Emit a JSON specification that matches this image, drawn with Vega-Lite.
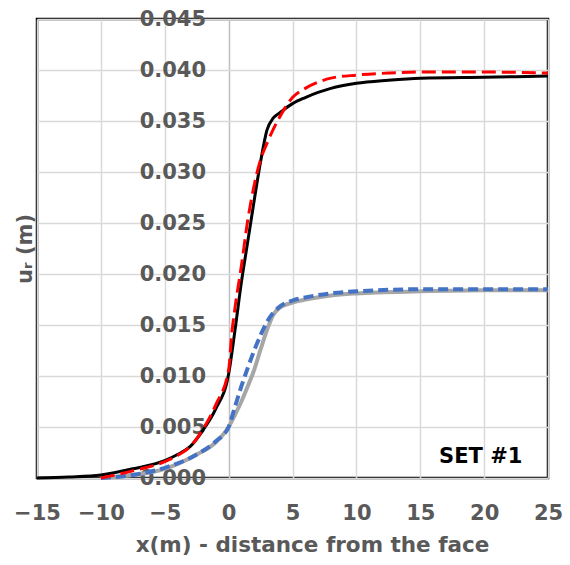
{
  "$schema": "https://vega.github.io/schema/vega-lite/v6.json",
  "width": 511,
  "height": 459,
  "autosize": {"type": "none"},
  "padding": {"left": 37, "top": 19, "right": 22, "bottom": 87},
  "background": "white",
  "config": {
    "view": {"stroke": "black", "strokeWidth": 2.5, "fill": "white"},
    "font": "DejaVu Sans"
  },
  "datasets": {
    "curves": [
      {"s": "black", "x": -15, "y": 0.0},
      {"s": "black", "x": -12.5, "y": 0.0001},
      {"s": "black", "x": -10, "y": 0.0003},
      {"s": "black", "x": -7.5, "y": 0.0009},
      {"s": "black", "x": -5, "y": 0.0017},
      {"s": "black", "x": -4, "y": 0.0023},
      {"s": "black", "x": -3, "y": 0.0031},
      {"s": "black", "x": -2, "y": 0.0047},
      {"s": "black", "x": -1, "y": 0.0068},
      {"s": "black", "x": 0, "y": 0.0102},
      {"s": "black", "x": 0.5, "y": 0.0145},
      {"s": "black", "x": 1, "y": 0.0192},
      {"s": "black", "x": 1.5, "y": 0.0232},
      {"s": "black", "x": 2, "y": 0.0272},
      {"s": "black", "x": 2.5, "y": 0.031},
      {"s": "black", "x": 3, "y": 0.0341},
      {"s": "black", "x": 3.5, "y": 0.0353},
      {"s": "black", "x": 4, "y": 0.0358},
      {"s": "black", "x": 5, "y": 0.0367},
      {"s": "black", "x": 6, "y": 0.0373},
      {"s": "black", "x": 7, "y": 0.0378},
      {"s": "black", "x": 8, "y": 0.0382},
      {"s": "black", "x": 10, "y": 0.0387},
      {"s": "black", "x": 12.5, "y": 0.039},
      {"s": "black", "x": 15, "y": 0.0392},
      {"s": "black", "x": 20, "y": 0.0393},
      {"s": "black", "x": 25, "y": 0.0394},
      {"s": "red", "x": -10, "y": 0.0},
      {"s": "red", "x": -7.5, "y": 0.0007},
      {"s": "red", "x": -5, "y": 0.0016},
      {"s": "red", "x": -4, "y": 0.0022},
      {"s": "red", "x": -3, "y": 0.0031},
      {"s": "red", "x": -2, "y": 0.0048},
      {"s": "red", "x": -1, "y": 0.0072},
      {"s": "red", "x": 0, "y": 0.0106},
      {"s": "red", "x": 0.25, "y": 0.0142},
      {"s": "red", "x": 0.5, "y": 0.0167},
      {"s": "red", "x": 1, "y": 0.0208},
      {"s": "red", "x": 1.5, "y": 0.0253},
      {"s": "red", "x": 2, "y": 0.0287},
      {"s": "red", "x": 2.5, "y": 0.0312},
      {"s": "red", "x": 3, "y": 0.0328},
      {"s": "red", "x": 3.5, "y": 0.0342},
      {"s": "red", "x": 4, "y": 0.0354},
      {"s": "red", "x": 5, "y": 0.0373},
      {"s": "red", "x": 6, "y": 0.0382},
      {"s": "red", "x": 7, "y": 0.0388},
      {"s": "red", "x": 8, "y": 0.0392},
      {"s": "red", "x": 10, "y": 0.0395},
      {"s": "red", "x": 12.5, "y": 0.0397},
      {"s": "red", "x": 15, "y": 0.0398},
      {"s": "red", "x": 20, "y": 0.0398},
      {"s": "red", "x": 25, "y": 0.0397},
      {"s": "gray", "x": -10, "y": 0.0},
      {"s": "gray", "x": -7.5, "y": 0.0003},
      {"s": "gray", "x": -5, "y": 0.0009},
      {"s": "gray", "x": -2.5, "y": 0.0023},
      {"s": "gray", "x": -1, "y": 0.0035},
      {"s": "gray", "x": 0, "y": 0.005},
      {"s": "gray", "x": 0.5, "y": 0.0062},
      {"s": "gray", "x": 1, "y": 0.0075},
      {"s": "gray", "x": 1.5, "y": 0.009},
      {"s": "gray", "x": 2, "y": 0.0106},
      {"s": "gray", "x": 2.5, "y": 0.0126},
      {"s": "gray", "x": 3, "y": 0.0145},
      {"s": "gray", "x": 3.5, "y": 0.016},
      {"s": "gray", "x": 4, "y": 0.0167},
      {"s": "gray", "x": 5, "y": 0.0172},
      {"s": "gray", "x": 6, "y": 0.0175},
      {"s": "gray", "x": 8, "y": 0.0179},
      {"s": "gray", "x": 10, "y": 0.0181},
      {"s": "gray", "x": 15, "y": 0.0183},
      {"s": "gray", "x": 20, "y": 0.0184},
      {"s": "gray", "x": 25, "y": 0.0184},
      {"s": "blue", "x": -10, "y": 0.0},
      {"s": "blue", "x": -7.5, "y": 0.0003},
      {"s": "blue", "x": -5, "y": 0.001},
      {"s": "blue", "x": -2.5, "y": 0.0023},
      {"s": "blue", "x": -1, "y": 0.0036},
      {"s": "blue", "x": 0, "y": 0.005},
      {"s": "blue", "x": 0.5, "y": 0.007},
      {"s": "blue", "x": 1, "y": 0.009},
      {"s": "blue", "x": 1.5, "y": 0.0108},
      {"s": "blue", "x": 2, "y": 0.0125},
      {"s": "blue", "x": 2.5, "y": 0.014},
      {"s": "blue", "x": 3, "y": 0.0153},
      {"s": "blue", "x": 3.5, "y": 0.0162},
      {"s": "blue", "x": 4, "y": 0.0168},
      {"s": "blue", "x": 5, "y": 0.0174},
      {"s": "blue", "x": 6, "y": 0.0177},
      {"s": "blue", "x": 8, "y": 0.0181},
      {"s": "blue", "x": 10, "y": 0.0183},
      {"s": "blue", "x": 15, "y": 0.0185},
      {"s": "blue", "x": 20, "y": 0.0185},
      {"s": "blue", "x": 25, "y": 0.0185}
    ],
    "notes": [
      {"label": "SET #1", "x": 23, "y": 0.0015}
    ]
  },
  "layer": [
    {
      "data": {"name": "curves"},
      "transform": [{"filter": "datum.s === 'gray'"}],
      "mark": {"type": "line", "color": "#a6a6a6", "strokeWidth": 4, "interpolate": "monotone"},
      "encoding": {
        "x": {
          "field": "x",
          "type": "quantitative",
          "scale": {"domain": [-15, 25], "nice": false, "zero": false},
          "axis": {
            "values": [-15, -10, -5, 0, 5, 10, 15, 20, 25],
            "title": "x(m) - distance from the face",
            "titleFont": "DejaVu Sans",
            "titleFontSize": 21.5,
            "titleFontWeight": "bold",
            "titleColor": "#595959",
            "titleX": 275,
            "titlePadding": 11,
            "labelFont": "DejaVu Sans",
            "labelFontSize": 21,
            "labelFontWeight": "bold",
            "labelColor": "#595959",
            "labelPadding": 24,
            "labelFlush": false,
            "labelOverlap": false,
            "ticks": false,
            "domain": false,
            "grid": true,
            "gridColor": {"condition": {"test": "datum.value === 0", "value": "#bfbfbf"}, "value": "#d9d9d9"},
            "gridWidth": 1.5
          }
        },
        "y": {
          "field": "y",
          "type": "quantitative",
          "scale": {"domain": [0, 0.045], "nice": false},
          "axis": {
            "values": [0, 0.005, 0.01, 0.015, 0.02, 0.025, 0.03, 0.035, 0.04, 0.045],
            "format": ".3f",
            "offset": -191.6,
            "title": "uᵣ (m)",
            "titleFont": "DejaVu Sans",
            "titleFontSize": 21,
            "titleFontWeight": "bold",
            "titleColor": "#595959",
            "titleX": -193,
            "labelFont": "DejaVu Sans",
            "labelFontSize": 21,
            "labelFontWeight": "bold",
            "labelColor": "#595959",
            "labelPadding": 23,
            "labelOverlap": false,
            "labelFlush": false,
            "ticks": false,
            "domain": false,
            "grid": true,
            "gridColor": "#d9d9d9",
            "gridWidth": 1.5
          }
        }
      }
    },
    {
      "data": {"name": "curves"},
      "transform": [{"filter": "datum.s === 'blue'"}],
      "mark": {"type": "line", "color": "#4472c4", "strokeWidth": 4, "strokeDash": [10, 5], "interpolate": "monotone"},
      "encoding": {"x": {"field": "x", "type": "quantitative"}, "y": {"field": "y", "type": "quantitative"}}
    },
    {
      "data": {"name": "curves"},
      "transform": [{"filter": "datum.s === 'black'"}],
      "mark": {"type": "line", "color": "#000000", "strokeWidth": 3, "interpolate": "monotone"},
      "encoding": {"x": {"field": "x", "type": "quantitative"}, "y": {"field": "y", "type": "quantitative"}}
    },
    {
      "data": {"name": "curves"},
      "transform": [{"filter": "datum.s === 'red'"}],
      "mark": {"type": "line", "color": "#ff0000", "strokeWidth": 3, "strokeDash": [14, 6], "interpolate": "monotone"},
      "encoding": {"x": {"field": "x", "type": "quantitative"}, "y": {"field": "y", "type": "quantitative"}}
    },
    {
      "data": {"name": "notes"},
      "mark": {"type": "text", "align": "right", "baseline": "alphabetic", "font": "DejaVu Sans", "fontSize": 21, "fontWeight": "bold", "color": "#000000"},
      "encoding": {
        "x": {"field": "x", "type": "quantitative"},
        "y": {"field": "y", "type": "quantitative"},
        "text": {"field": "label"}
      }
    }
  ]
}
